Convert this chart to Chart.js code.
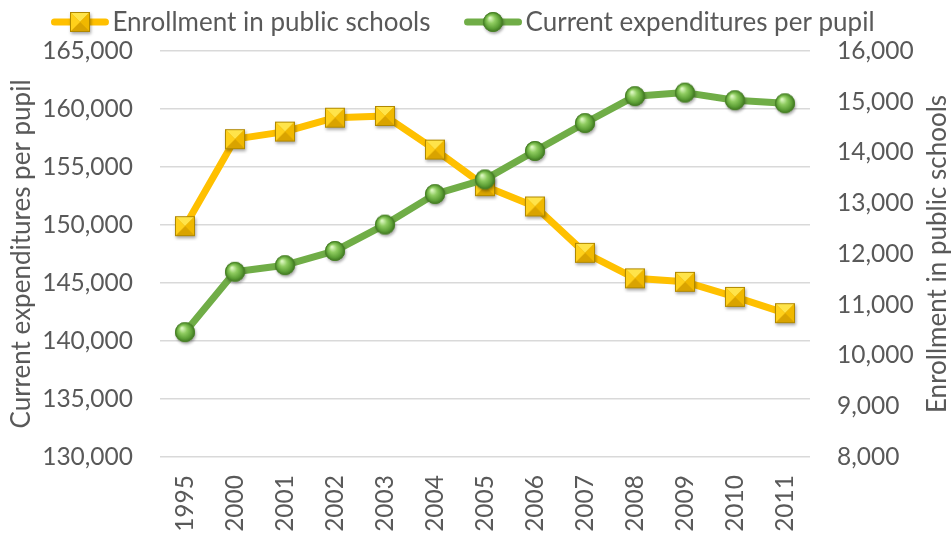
<!DOCTYPE html>
<html>
<head>
<meta charset="utf-8">
<title>Enrollment and expenditures</title>
<script src="https://cdn.jsdelivr.net/npm/chart.js@4.4.1/dist/chart.umd.min.js"></script>
<style>
html, body { margin: 0; padding: 0; background: #fff; }
</style>
</head>
<body>
<canvas id="myChart" width="952" height="533"></canvas>
<script>
var years = ['1995', '2000', '2001', '2002', '2003', '2004', '2005', '2006', '2007', '2008', '2009', '2010', '2011'];
var enrollment = [149900, 157400, 158050, 159250, 159400, 156500, 153350, 151600, 147600, 145400, 145100, 143800, 142400];
var expenditures = [10460, 11650, 11780, 12060, 12580, 13180, 13470, 14030, 14580, 15110, 15180, 15030, 14970];

var leftTicks = { min: 130000, max: 165000, step: 5000 };
var rightTicks = { min: 8000, max: 16000, step: 1000 };

var enrollLabel = 'Enrollment in public schools';
var spendLabel = 'Current expenditures per pupil';

var textColor = '#595959';
var fontName = 'Lato';

// little bevelled yellow square used as the enrollment marker
function makeSquareMarker(size) {
    var pad = 5;
    var c = document.createElement('canvas');
    c.width = c.height = size + pad * 2;
    var g = c.getContext('2d');
    var x0 = pad, y0 = pad, x1 = pad + size, y1 = pad + size;
    var cx = (x0 + x1) / 2, cy = (y0 + y1) / 2;
    g.save();
    g.shadowColor = 'rgba(0,0,0,0.35)';
    g.shadowBlur = 3;
    g.shadowOffsetX = 1;
    g.shadowOffsetY = 2;
    g.fillStyle = '#E0A800';
    g.fillRect(x0, y0, size, size);
    g.restore();
    var facets = [
        [x0, y0, x1, y0, '#FFE44A'],
        [x1, y0, x1, y1, '#F0B800'],
        [x1, y1, x0, y1, '#D9A300'],
        [x0, y1, x0, y0, '#FFD01A']
    ];
    facets.forEach(function(f) {
        g.beginPath();
        g.moveTo(f[0], f[1]);
        g.lineTo(f[2], f[3]);
        g.lineTo(cx, cy);
        g.closePath();
        g.fillStyle = f[4];
        g.fill();
    });
    g.strokeStyle = '#B08800';
    g.lineWidth = 1;
    g.strokeRect(x0 + 0.5, y0 + 0.5, size - 1, size - 1);
    return c;
}

// shiny green ball for the expenditures marker
function makeBallMarker(d) {
    var pad = 5;
    var c = document.createElement('canvas');
    c.width = c.height = d + pad * 2;
    var g = c.getContext('2d');
    var r = d / 2, cx = pad + r, cy = pad + r;
    g.save();
    g.shadowColor = 'rgba(0,0,0,0.35)';
    g.shadowBlur = 3;
    g.shadowOffsetX = 1;
    g.shadowOffsetY = 2;
    g.beginPath();
    g.arc(cx, cy, r, 0, Math.PI * 2);
    g.fillStyle = '#3E7420';
    g.fill();
    g.restore();
    var grad = g.createRadialGradient(cx - r * 0.3, cy - r * 0.4, r * 0.08, cx, cy, r);
    grad.addColorStop(0, '#D8F5BC');
    grad.addColorStop(0.35, '#8FCC60');
    grad.addColorStop(0.75, '#5C9F35');
    grad.addColorStop(1, '#3C7120');
    g.beginPath();
    g.arc(cx, cy, r - 0.5, 0, Math.PI * 2);
    g.fillStyle = grad;
    g.fill();
    g.strokeStyle = '#4B8428';
    g.lineWidth = 1;
    g.stroke();
    return c;
}

var squareMarker = makeSquareMarker(20);
var ballMarker = makeBallMarker(20);

function fmt(v) {
    return Number(v).toLocaleString('en-US');
}

// legend drawn along the top: line sample, marker, then the name
var topLegend = {
    id: 'topLegend',
    afterDraw: function(chart) {
        var ctx = chart.ctx;
        var items = [
            { text: enrollLabel, color: '#FFC000', img: squareMarker },
            { text: spendLabel, color: '#70AD47', img: ballMarker }
        ];
        var lineLen = 57, textGap = 4, itemGap = 34, y = 22;
        ctx.save();
        ctx.font = '26px ' + fontName;
        var total = 0;
        items.forEach(function(it, i) {
            it.w = lineLen + textGap + ctx.measureText(it.text).width;
            total += it.w + (i ? itemGap : 0);
        });
        var x = 463 - total / 2;
        items.forEach(function(it) {
            ctx.strokeStyle = it.color;
            ctx.lineWidth = 7;
            ctx.lineCap = 'round';
            ctx.beginPath();
            ctx.moveTo(x + 3, y);
            ctx.lineTo(x + lineLen - 3, y);
            ctx.stroke();
            ctx.drawImage(it.img, x + lineLen / 2 - it.img.width / 2, y - it.img.height / 2);
            ctx.fillStyle = textColor;
            ctx.textBaseline = 'middle';
            ctx.textAlign = 'left';
            ctx.fillText(it.text, x + lineLen + textGap, y + 1);
            x += it.w + itemGap;
        });
        ctx.restore();
    }
};

// secondary axis title, reading bottom to top like the left one
var rightTitle = {
    id: 'rightTitle',
    afterDraw: function(chart) {
        var ctx = chart.ctx;
        var a = chart.chartArea;
        ctx.save();
        ctx.translate(938, (a.top + a.bottom) / 2);
        ctx.rotate(-Math.PI / 2);
        ctx.font = '26px ' + fontName;
        ctx.fillStyle = textColor;
        ctx.textAlign = 'center';
        ctx.textBaseline = 'middle';
        ctx.fillText(enrollLabel, 0, 0);
        ctx.restore();
    }
};

Chart.defaults.font.family = fontName;
Chart.defaults.font.size = 24.5;
Chart.defaults.color = textColor;

window.onload = function() {
    var ctx = document.getElementById('myChart').getContext('2d');
    window.myLine = new Chart(ctx, {
        type: 'line',
        data: {
            labels: years,
            datasets: [{
                label: enrollLabel,
                data: enrollment,
                yAxisID: 'y',
                borderColor: '#FFC000',
                backgroundColor: '#FFC000',
                borderWidth: 7,
                borderJoinStyle: 'round',
                borderCapStyle: 'round',
                pointStyle: squareMarker,
                pointRadius: 10,
                tension: 0,
                order: 2
            }, {
                label: spendLabel,
                data: expenditures,
                yAxisID: 'y1',
                borderColor: '#70AD47',
                backgroundColor: '#70AD47',
                borderWidth: 7,
                borderJoinStyle: 'round',
                borderCapStyle: 'round',
                pointStyle: ballMarker,
                pointRadius: 10,
                tension: 0,
                order: 1
            }]
        },
        options: {
            responsive: false,
            animation: false,
            layout: { padding: { top: 51 } },
            plugins: {
                legend: { display: false },
                tooltip: { enabled: false }
            },
            scales: {
                x: {
                    offset: true,
                    grid: { display: false, drawTicks: false },
                    border: { display: false },
                    ticks: { minRotation: 90, maxRotation: 90, padding: 18, autoSkip: false },
                    afterFit: function(s) { s.height = 76; }
                },
                y: {
                    position: 'left',
                    min: leftTicks.min,
                    max: leftTicks.max,
                    ticks: { stepSize: leftTicks.step, padding: 27, callback: fmt },
                    grid: { color: '#D9D9D9', lineWidth: 1.5, drawTicks: false },
                    border: { display: false },
                    title: { display: true, text: spendLabel, font: { size: 26 }, padding: { top: 6, bottom: 0 } },
                    afterFit: function(s) { s.width = 160; }
                },
                y1: {
                    position: 'right',
                    min: rightTicks.min,
                    max: rightTicks.max,
                    ticks: { stepSize: rightTicks.step, padding: 27, callback: fmt },
                    grid: { display: false, drawTicks: false },
                    border: { display: false },
                    afterFit: function(s) { s.width = 142; }
                }
            }
        },
        plugins: [topLegend, rightTitle]
    });
};
</script>
</body>
</html>
